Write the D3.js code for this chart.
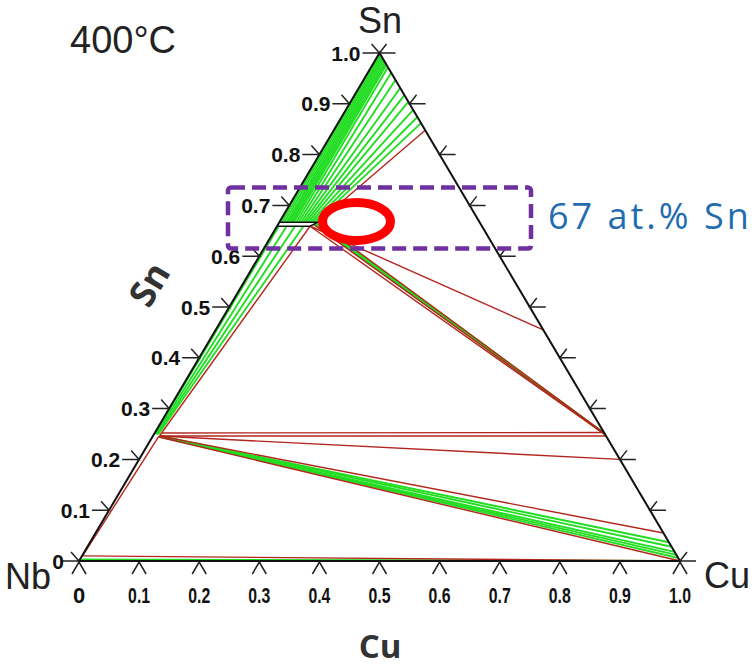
<!DOCTYPE html>
<html>
<head>
<meta charset="utf-8">
<script src="https://cdn.jsdelivr.net/npm/d3@7"></script>
<style>
  body { margin: 0; background: #fff; }
  svg { display: block; }
</style>
</head>
<body>
<svg></svg>
<script>
const svg = d3.select("svg").attr("width", 756).attr("height", 670);

// axis ticks (mole fraction)
const ticks = [0, 0.1, 0.2, 0.3, 0.4, 0.5, 0.6, 0.7, 0.8, 0.9, 1.0];
const tickLabels = ["0", "0.1", "0.2", "0.3", "0.4", "0.5", "0.6", "0.7", "0.8", "0.9", "1.0"];

// tie lines, each [Cu, Sn, Cu, Sn]
// NbSn2 + liquid
const liquidTies = [
  [0.000, 0.667, 0.002, 0.998],
  [0.004, 0.667, 0.005, 0.995],
  [0.008, 0.667, 0.008, 0.992],
  [0.012, 0.667, 0.011, 0.989],
  [0.015, 0.667, 0.014, 0.986],
  [0.018, 0.667, 0.017, 0.983],
  [0.021, 0.667, 0.020, 0.980],
  [0.024, 0.667, 0.023, 0.977],
  [0.028, 0.667, 0.028, 0.972],
  [0.032, 0.667, 0.039, 0.961],
  [0.036, 0.667, 0.053, 0.947],
  [0.040, 0.667, 0.069, 0.931],
  [0.044, 0.667, 0.083, 0.917],
  [0.048, 0.667, 0.096, 0.904],
  [0.052, 0.667, 0.112, 0.888],
  [0.056, 0.667, 0.126, 0.874],
  [0.060, 0.667, 0.138, 0.862]
];
// Nb3Sn + NbSn2
const nb3snTies = [
  [0.001, 0.250, 0.003, 0.660],
  [0.003, 0.250, 0.016, 0.660],
  [0.005, 0.249, 0.030, 0.660],
  [0.007, 0.249, 0.044, 0.659]
];
// NbSn2 + Cu3Sn
const epsilonTies = [
  [0.065, 0.665, 0.749, 0.251],
  [0.063, 0.664, 0.750, 0.250],
  [0.061, 0.663, 0.751, 0.249]
];
// Nb3Sn + (Cu)
const alphaTies = [
  [0.011, 0.246, 0.963, 0.037],
  [0.011, 0.246, 0.972, 0.028],
  [0.011, 0.245, 0.982, 0.018],
  [0.011, 0.245, 0.988, 0.012],
  [0.011, 0.245, 0.994, 0.006],
  [0.000, 0.003, 1.000, 0.000]
];
// three-phase triangle sides
const boundaries = [
  [0.064, 0.667, 0.152, 0.848],
  [0.058, 0.658, 0.545, 0.455],
  [0.066, 0.666, 0.748, 0.252],
  [0.060, 0.662, 0.751, 0.249],
  [0.055, 0.659, 0.752, 0.248],
  [0.055, 0.659, 0.011, 0.248],
  [0.012, 0.252, 0.747, 0.253],
  [0.011, 0.246, 0.753, 0.246],
  [0.011, 0.246, 0.800, 0.200],
  [0.011, 0.246, 0.945, 0.055],
  [0.011, 0.244, 1.000, 0.000],
  [0.000, 0.010, 1.000, 0.000],
  [0.001, 0.010, 0.010, 0.246]
];
// NbSn2 single phase field
const nbsn2Field = [[0.000, 0.667], [0.064, 0.667], [0.055, 0.659], [0.000, 0.659]];

// ternary -> screen
const xScale = d3.scaleLinear().domain([0, 1]).range([79, 680]);
const yScale = d3.scaleLinear().domain([0, 1]).range([561, 53]);
const tx = (cu, sn) => xScale(cu + sn / 2);
const ty = (sn) => yScale(sn);

function drawTies(data, color, width) {
  svg.append("g")
    .selectAll("line")
    .data(data)
    .join("line")
    .attr("x1", d => tx(d[0], d[1]))
    .attr("y1", d => ty(d[1]))
    .attr("x2", d => tx(d[2], d[3]))
    .attr("y2", d => ty(d[3]))
    .attr("stroke", color)
    .attr("stroke-width", width);
}

const green = "#22dd22";
const red = "#b3261e";
drawTies(liquidTies, green, 1.9);
drawTies(nb3snTies, green, 1.9);
drawTies(epsilonTies, green, 2);
drawTies(alphaTies, green, 1.9);
drawTies(boundaries, red, 1.4);

// NbSn2 field outline
svg.append("path")
  .attr("d", d3.line().x(d => tx(d[0], d[1])).y(d => ty(d[1]))(nbsn2Field))
  .attr("fill", "none")
  .attr("stroke", "#111")
  .attr("stroke-width", 1.5);

// triangle
const corners = [[0, 0], [0, 1], [1, 0]];
svg.append("path")
  .attr("d", d3.line().x(d => tx(d[0], d[1])).y(d => ty(d[1]))(corners) + "Z")
  .attr("fill", "none")
  .attr("stroke", "#111")
  .attr("stroke-width", 2);

const tickColor = "#222";
const axisG = svg.append("g").attr("stroke", tickColor).attr("stroke-width", 1.5).attr("fill", "none");

// left edge (Sn) ticks
ticks.forEach(v => {
  const x = tx(0, v), y = ty(v);
  axisG.append("path").attr("d", `M${x - 17},${y}H${x}L${x - 8},${y - 9}`);
});
// right edge ticks
ticks.forEach(v => {
  const x = tx(1 - v, v), y = ty(v);
  axisG.append("path").attr("d", `M${x + 16},${y}H${x}L${x + 7},${y - 9}`);
});
// bottom (Cu) ticks
ticks.forEach(v => {
  const x = tx(v, 0), y = ty(0);
  axisG.append("path").attr("d", `M${x - 7},${y + 13}L${x},${y + 1}L${x + 7},${y + 13}`);
});

// tick labels
svg.append("g")
  .selectAll("text")
  .data(ticks)
  .join("text")
  .attr("x", d => tx(0, d) - (d === 0 ? 15 : 19))
  .attr("y", d => ty(d) + 7.5)
  .attr("text-anchor", "end")
  .attr("font-family", "'Liberation Sans', Arial, sans-serif")
  .attr("font-weight", "bold")
  .attr("font-size", 21)
  .attr("fill", "#111")
  .text((d, i) => tickLabels[i]);

svg.append("g")
  .selectAll("text")
  .data(ticks)
  .join("text")
  .attr("x", d => tx(d, 0))
  .attr("y", 603)
  .attr("text-anchor", "middle")
  .attr("font-family", "'Liberation Sans', Arial, sans-serif")
  .attr("font-weight", "bold")
  .attr("font-size", 22)
  .attr("fill", "#111")
  .attr("textLength", (d, i) => tickLabels[i].length > 1 ? 22 : null)
  .attr("lengthAdjust", "spacingAndGlyphs")
  .text((d, i) => tickLabels[i]);

// corner and title labels
const plain = "'Liberation Sans', Arial, sans-serif";
svg.append("text").attr("x", 51).attr("y", 589).attr("text-anchor", "end")
  .attr("font-family", plain).attr("font-size", 36).attr("fill", "#222").text("Nb");
svg.append("text").attr("x", 380).attr("y", 33).attr("text-anchor", "middle")
  .attr("font-family", plain).attr("font-size", 36).attr("fill", "#222").text("Sn");
svg.append("text").attr("x", 704).attr("y", 588)
  .attr("font-family", plain).attr("font-size", 36).attr("fill", "#222").text("Cu");
svg.append("text").attr("x", 70).attr("y", 53)
  .attr("font-family", plain).attr("font-size", 38).attr("fill", "#222").text("400°C");

// axis titles
svg.append("text")
  .attr("transform", "translate(152,286) rotate(-59)")
  .attr("text-anchor", "middle").attr("dominant-baseline", "middle")
  .attr("font-family", "'Open Sans', sans-serif").attr("font-weight", "bold")
  .attr("font-size", 36).attr("fill", "#333").text("Sn");
svg.append("text").attr("x", 380).attr("y", 658).attr("text-anchor", "middle")
  .attr("font-family", "'Open Sans', sans-serif").attr("font-weight", "bold")
  .attr("font-size", 33).attr("fill", "#333").text("Cu");

// annotation
svg.append("rect")
  .attr("x", 228).attr("y", 187.5).attr("width", 303).attr("height", 61).attr("rx", 3)
  .attr("fill", "none").attr("stroke", "#7030a0").attr("stroke-width", 4.5)
  .attr("stroke-dasharray", "14,7");
svg.append("ellipse")
  .attr("cx", 356.5).attr("cy", 221.5).attr("rx", 34).attr("ry", 19)
  .attr("fill", "none").attr("stroke", "#ff0000").attr("stroke-width", 9);
svg.append("text").attr("x", 548).attr("y", 229)
  .attr("font-family", "'Open Sans', sans-serif").attr("font-size", 36)
  .attr("letter-spacing", 3).attr("fill", "#1f6cb0").text("67 at.% Sn");
</script>
</body>
</html>
